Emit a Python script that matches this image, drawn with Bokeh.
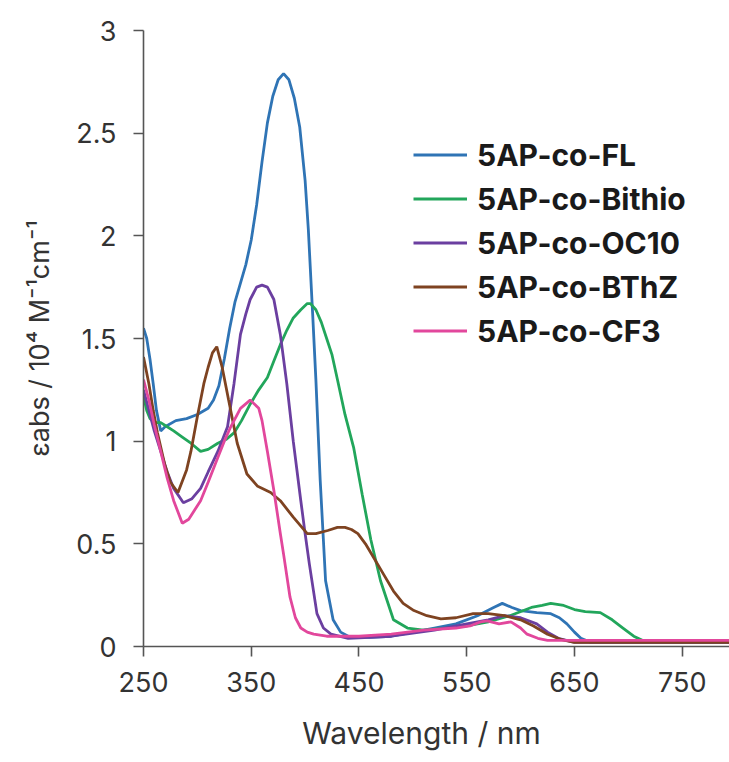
import math
from bokeh.plotting import figure
from bokeh.models import Range1d, FixedTicker, Legend, LegendItem, Label
from bokeh.embed import file_html
from bokeh.resources import INLINE

# ---------------- data ----------------
x_ticks = [250, 350, 450, 550, 650, 750]
y_ticks = [0, 0.5, 1, 1.5, 2, 2.5, 3]
y_tick_labels = ["0", "0.5", "1", "1.5", "2", "2.5", "3"]

series_names = ["5AP-co-FL", "5AP-co-Bithio", "5AP-co-OC10", "5AP-co-BThZ", "5AP-co-CF3"]
series_colors = ["#2f74b5", "#22a65b", "#6b3fa0", "#7e4321", "#e2479c"]

fl_nm = [250, 253, 256, 259, 262, 266, 270, 280, 290, 300, 310, 315, 320, 325, 330, 335, 340, 345, 350, 355,
         360, 365, 370, 375, 380, 385, 390, 395, 400, 403, 407, 410, 414, 419, 426, 433, 440, 460,
         480, 500, 520, 540, 560, 575, 583, 592, 600, 615, 628, 636, 643, 650, 656, 665, 700, 750, 800]
fl_eps = [1.55, 1.50, 1.40, 1.28, 1.15, 1.05, 1.07, 1.10, 1.11, 1.13, 1.16, 1.20, 1.27, 1.40, 1.55, 1.68, 1.77, 1.86, 1.98, 2.15,
          2.36, 2.55, 2.68, 2.76, 2.79, 2.76, 2.67, 2.53, 2.27, 2.03, 1.62, 1.30, 0.81, 0.32, 0.13, 0.07, 0.05, 0.045,
          0.05, 0.07, 0.09, 0.11, 0.15, 0.19, 0.21, 0.19, 0.175, 0.165, 0.16, 0.14, 0.11, 0.07, 0.04, 0.02, 0.02, 0.02, 0.02]

bithio_nm = [250, 253, 256, 260, 266, 272, 278, 286, 294, 303, 310, 319, 327, 334, 341, 349, 357, 365, 371, 377,
             383, 389, 396, 402, 405, 410, 415, 420, 425, 430, 437, 445, 453, 461, 470, 482, 495, 510, 530, 550, 570,
             590, 610, 620, 628, 640, 650, 660, 674, 685, 695, 705, 715, 750, 800]
bithio_eps = [1.22, 1.15, 1.11, 1.09, 1.09, 1.07, 1.05, 1.02, 0.99, 0.95, 0.96, 0.99, 1.01, 1.04, 1.10, 1.18, 1.25, 1.31, 1.39, 1.47,
              1.54, 1.60, 1.64, 1.67, 1.67, 1.64, 1.58, 1.50, 1.42, 1.30, 1.13, 0.97, 0.74, 0.52, 0.32, 0.13, 0.09, 0.08, 0.09, 0.10, 0.12,
              0.15, 0.19, 0.20, 0.21, 0.20, 0.18, 0.17, 0.165, 0.13, 0.09, 0.05, 0.025, 0.02, 0.02]

oc10_nm = [250, 255, 260, 266, 272, 278, 287, 295, 303, 310, 319, 328, 334, 340, 345, 349, 355, 360,
           365, 371, 377, 383, 389, 396, 400, 404, 411, 417, 424, 440, 480, 520, 550, 570, 585,
           600, 615, 625, 635, 650, 700, 750, 800]
oc10_eps = [1.25, 1.15, 1.05, 0.95, 0.85, 0.77, 0.70, 0.72, 0.77, 0.85, 0.95, 1.07, 1.28, 1.52, 1.62, 1.69, 1.75, 1.76,
            1.75, 1.69, 1.52, 1.28, 1.00, 0.71, 0.55, 0.40, 0.16, 0.09, 0.06, 0.04, 0.05, 0.08, 0.11, 0.13, 0.15,
            0.14, 0.11, 0.07, 0.04, 0.02, 0.02, 0.02, 0.02]

bthz_nm = [250, 255, 259, 263, 270, 275, 282, 290, 294, 300, 306, 310, 314, 318, 323, 329, 337, 346, 356,
           368, 377, 389, 402, 410, 421, 430, 437, 443, 449, 456, 464, 473,
           482, 491, 501, 513, 526, 540, 556, 570, 585, 600, 612, 625, 637, 650, 700, 750, 800]
bthz_eps = [1.41, 1.28, 1.15, 1.04, 0.88, 0.80, 0.75, 0.86, 0.95, 1.12, 1.28, 1.36, 1.43, 1.46, 1.36, 1.20, 0.99, 0.84, 0.78,
            0.75, 0.71, 0.63, 0.55, 0.55, 0.565, 0.58, 0.58, 0.57, 0.55, 0.50, 0.43, 0.35,
            0.27, 0.21, 0.175, 0.15, 0.135, 0.14, 0.16, 0.16, 0.15, 0.13, 0.10, 0.06, 0.035, 0.02, 0.02, 0.02, 0.02]

cf3_nm = [250, 255, 260, 266, 272, 278, 286, 292, 303, 310, 319, 325, 331, 340, 349, 357, 360,
          365, 371, 377, 380, 386, 391, 396, 402, 408, 420, 450, 480, 510, 540, 553, 563, 569, 580, 591,
          600, 606, 616, 625, 650, 700, 750, 800]
cf3_eps = [1.30, 1.20, 1.08, 0.95, 0.82, 0.71, 0.60, 0.62, 0.71, 0.80, 0.92, 1.00, 1.07, 1.16, 1.20, 1.16, 1.10,
           0.95, 0.76, 0.55, 0.45, 0.24, 0.14, 0.09, 0.07, 0.06, 0.05, 0.05, 0.06, 0.08, 0.09, 0.10, 0.12, 0.125, 0.11, 0.12,
           0.09, 0.06, 0.04, 0.03, 0.03, 0.03, 0.03, 0.03]

series_x = [fl_nm, bithio_nm, oc10_nm, bthz_nm, cf3_nm]
series_y = [fl_eps, bithio_eps, oc10_eps, bthz_eps, cf3_eps]

x_title = "Wavelength / nm"
y_title = "εabs / 10⁴ M⁻¹cm⁻¹"

FONT = "Inter"
TXT = "#333333"
AX = "#555555"

# ---------------- figure ----------------
W, H = 729, 762
FL, FT, FB = 143, 30, 646          # frame left / top / bottom in page pixels
X0, X1 = 250, 793.9
p = figure(width=W, height=H, x_range=Range1d(X0, X1), y_range=Range1d(0, 3),
           output_backend="svg", toolbar_location=None,
           min_border_left=FL, min_border_right=0, min_border_top=FT, min_border_bottom=H - FB)
p.outline_line_color = None
p.grid.visible = False
p.background_fill_color = "white"
p.border_fill_color = "white"

for ax in (p.xaxis, p.yaxis):
    ax.axis_line_color = AX
    ax.axis_line_width = 1.6
    ax.major_tick_line_color = AX
    ax.major_tick_line_width = 1.6
    ax.major_tick_out = 10
    ax.major_tick_in = 0
    ax.minor_tick_out = 0
    ax.minor_tick_in = 0
    ax.major_label_text_font = FONT
    ax.major_label_text_font_size = "27px"
    ax.major_label_text_color = TXT

p.xaxis.ticker = FixedTicker(ticks=x_ticks)
p.xaxis.major_label_standoff = 15

p.yaxis.ticker = FixedTicker(ticks=y_ticks)
p.yaxis.major_label_overrides = dict(zip(y_ticks, y_tick_labels))
p.yaxis.major_label_standoff = 17
p.yaxis.axis_label = y_title
p.yaxis.axis_label_text_font = FONT
p.yaxis.axis_label_text_font_size = "27px"
p.yaxis.axis_label_text_font_style = "normal"
p.yaxis.axis_label_text_color = TXT
p.yaxis.axis_label_standoff = 17

items = []
for name, color, xs, ys in zip(series_names, series_colors, series_x, series_y):
    r = p.line(xs, ys, line_color=color, line_width=2.8)
    items.append(LegendItem(label=name, renderers=[r]))

legend = Legend(items=items, location=(270, 297), orientation="vertical",
                label_text_font=FONT, label_text_font_style="bold", label_text_font_size="30px",
                label_text_color="#1a1a1a", glyph_width=54, glyph_height=37, label_height=37,
                label_standoff=10, spacing=7, padding=0, margin=0,
                border_line_color=None, background_fill_alpha=0)
p.add_layout(legend, "center")

# x-axis title as a label in the bottom side panel (slightly left of the frame centre, as in the reference)
p.add_layout(Label(x=278, y=-2, x_units="screen", y_units="screen", text=x_title,
                   text_font=FONT, text_font_size="30px", text_color=TXT,
                   text_align="center", text_baseline="middle"), "below")

open("out.html", "w").write(file_html(p, INLINE))
